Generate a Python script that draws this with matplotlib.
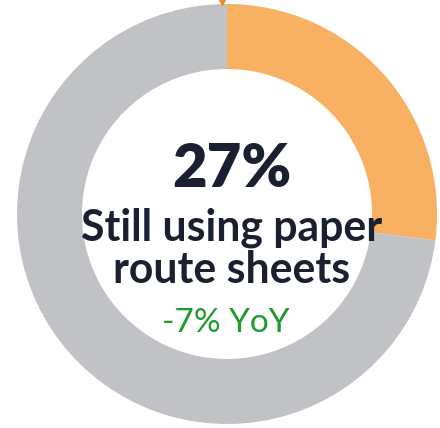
import matplotlib.pyplot as plt

# share of respondents still on paper route sheets
labels = ['Paper route sheets', 'Other']
shares = [27, 73]
colors = ['#F8B062', '#C1C2C6']
headline = '27%'
caption = 'Still using paper\nroute sheets'
change = '-7% YoY'

plt.rcParams['font.family'] = ['Lato', 'DejaVu Sans']

fig = plt.figure(figsize=(4.4, 4.28), dpi=100)
ax = fig.add_axes([0, 0, 1, 1])

ax.pie(shares, colors=colors, startangle=90, counterclock=False,
       center=(227, 214), radius=210,
       wedgeprops=dict(width=65, linewidth=0))

# small marker at the top of the ring
ax.plot([222], [426], marker='v', color='#F08A1C', markersize=4)

ax.text(232, 241, headline, ha='center', va='baseline',
        fontsize=43, fontweight='heavy', color='#1B2030')
lines = caption.split('\n')
ax.text(232, 188, lines[0], ha='center', va='baseline',
        fontsize=30.8, fontweight='bold', color='#1B2030')
ax.text(232, 145, lines[1], ha='center', va='baseline',
        fontsize=30.8, fontweight='bold', color='#1B2030')
ax.text(226, 96, change, ha='center', va='baseline',
        fontsize=24, color='#1F9A2C')

ax.set_xlim(0, 440)
ax.set_ylim(0, 428)
ax.set_aspect('auto')
ax.axis('off')

fig.savefig('out.png', dpi=100)
